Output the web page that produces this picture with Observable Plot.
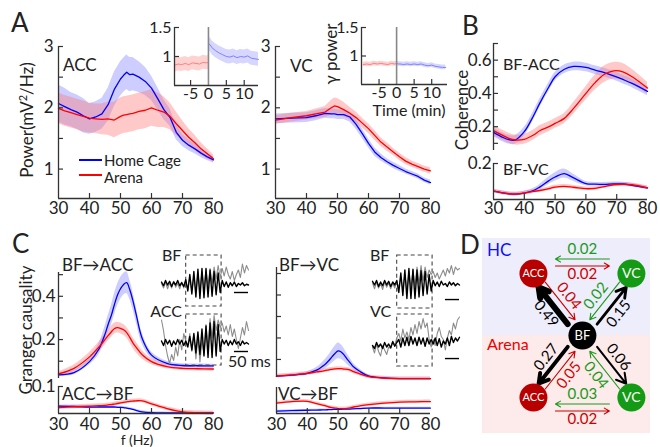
<!DOCTYPE html>
<html><head><meta charset="utf-8">
<script src="https://cdn.jsdelivr.net/npm/d3@7"></script>
<script src="https://cdn.jsdelivr.net/npm/@observablehq/plot@0.6"></script>
<style>
body{margin:0;background:#fff;}
#fig{position:relative;width:660px;height:447px;overflow:hidden;background:#fff;font-family:Lato,"Open Sans",sans-serif;color:#222;}
#fig svg{position:absolute;overflow:visible;}
.t{position:absolute;white-space:nowrap;line-height:1;}
.lg{position:absolute;height:2px;}
</style></head><body><div id="fig"></div>
<script>
// ---------------- DATA ----------------
// Panel A: gamma power spectra
const fA = [30,32,34,36,38,40,42,44,46,48,50,51,52,53,54,56,58,60,62,64,66,68,70,72,74,76,78,80];
const accHome  = [2.07,2.02,1.97,1.93,1.87,1.82,1.85,1.90,2.05,2.30,2.47,2.53,2.58,2.54,2.55,2.50,2.43,2.32,2.15,1.97,1.84,1.60,1.47,1.39,1.33,1.26,1.20,1.15];
const accArena = [1.99,1.95,1.92,1.89,1.86,1.83,1.82,1.81,1.82,1.80,1.86,1.88,1.89,1.90,1.91,1.94,1.96,2.00,1.96,1.93,1.86,1.74,1.63,1.52,1.43,1.33,1.25,1.17];
const accHomeSE  = [0.30,0.30,0.28,0.28,0.28,0.25,0.25,0.25,0.27,0.28,0.28,0.28,0.28,0.28,0.27,0.25,0.23,0.20,0.18,0.16,0.14,0.12,0.10,0.09,0.08,0.07,0.06,0.05];
const accArenaSE = [0.25,0.25,0.25,0.25,0.25,0.24,0.24,0.25,0.27,0.29,0.30,0.30,0.30,0.30,0.30,0.30,0.30,0.30,0.28,0.25,0.22,0.19,0.16,0.14,0.12,0.10,0.08,0.06];
const fV = [30,35,40,43,46,48,49,50,52,54,56,58,60,62,64,66,68,70,72,74,76,78,80];
const vcHome  = [1.82,1.83,1.84,1.87,1.91,1.90,1.90,1.89,1.89,1.85,1.73,1.58,1.42,1.28,1.19,1.12,1.06,1.01,0.96,0.92,0.88,0.82,0.78];
const vcArena = [1.80,1.84,1.87,1.90,1.93,2.00,2.03,2.02,1.97,1.91,1.84,1.75,1.66,1.55,1.44,1.36,1.28,1.20,1.13,1.08,1.04,1.00,0.97];
const vcHomeSE  = [0.08,0.08,0.08,0.08,0.08,0.08,0.08,0.08,0.08,0.08,0.08,0.08,0.07,0.07,0.06,0.05,0.05,0.05,0.04,0.04,0.04,0.04,0.04];
const vcArenaSE = [0.07,0.07,0.07,0.08,0.09,0.12,0.13,0.13,0.12,0.10,0.09,0.08,0.08,0.08,0.07,0.07,0.06,0.06,0.06,0.05,0.05,0.05,0.05];
// insets: gamma power over time (min)
const tArena = [-9.5,-8.5,-7.5,-6.5,-5.5,-4.5,-3.5,-2.5,-1.5,-0.5,0];
const tHome  = [0,0.5,1,2,3,4,5,6,7,8,9,10,11,12,13,14];
const accInArena = [0.85,0.87,0.86,0.88,0.86,0.89,0.88,0.87,0.90,0.89,0.90];
const accInHome  = [1.22,1.20,1.15,1.10,1.06,1.03,1.00,0.99,1.01,0.98,1.00,0.99,1.01,0.97,0.96,0.95];
const vcInArena  = [0.85,0.86,0.85,0.87,0.86,0.87,0.86,0.85,0.87,0.86,0.87];
const vcInHome   = [0.87,0.86,0.86,0.85,0.86,0.85,0.86,0.85,0.86,0.84,0.83,0.84,0.82,0.81,0.80,0.80];
// Panel B: coherence
const fB = [30,33,35,37,40,43,45,48,50,53,56,60,63,66,69,72,75,80];
const cohAccHome  = [0.166,0.136,0.122,0.120,0.170,0.266,0.340,0.440,0.500,0.545,0.562,0.556,0.540,0.525,0.506,0.484,0.460,0.412];
const cohAccArena = [0.176,0.148,0.130,0.120,0.124,0.150,0.176,0.200,0.220,0.250,0.310,0.400,0.465,0.515,0.536,0.530,0.500,0.432];
const cohAccArenaSE = [0.03,0.03,0.03,0.03,0.03,0.03,0.03,0.03,0.03,0.03,0.035,0.04,0.045,0.05,0.05,0.05,0.045,0.035];
const cohVcHome  = [0.047,0.037,0.032,0.030,0.036,0.050,0.069,0.105,0.125,0.144,0.120,0.088,0.085,0.084,0.087,0.086,0.079,0.065];
const cohVcArena = [0.047,0.037,0.032,0.030,0.036,0.045,0.050,0.060,0.069,0.073,0.068,0.060,0.062,0.072,0.082,0.084,0.082,0.065];
const cohVcHomeSE = [0.01,0.01,0.01,0.01,0.01,0.012,0.015,0.02,0.024,0.025,0.02,0.012,0.01,0.01,0.01,0.01,0.01,0.01];
// Panel C: Granger causality
const fC = [30,35,40,43,45,46,47,48,49,50,51,52,53,54,55,57,60,65,70,75,80];
const gBfAccHome  = [0.037,0.047,0.098,0.155,0.225,0.270,0.310,0.360,0.405,0.435,0.455,0.463,0.430,0.380,0.320,0.205,0.128,0.090,0.080,0.079,0.078];
const gBfAccArena = [0.041,0.067,0.120,0.165,0.200,0.218,0.235,0.250,0.255,0.252,0.245,0.232,0.210,0.185,0.165,0.130,0.098,0.075,0.067,0.065,0.064];
const gBfAccHomeSE  = [0.008,0.010,0.015,0.025,0.035,0.040,0.045,0.050,0.050,0.050,0.050,0.050,0.045,0.040,0.035,0.025,0.015,0.010,0.008,0.008,0.008];
const gBfAccArenaSE = [0.010,0.015,0.020,0.022,0.025,0.025,0.025,0.025,0.025,0.025,0.025,0.025,0.025,0.025,0.025,0.020,0.015,0.010,0.010,0.010,0.010];
const gAccBfHome  = [0.027,0.026,0.024,0.024,0.024,0.024,0.024,0.024,0.023,0.023,0.022,0.020,0.018,0.015,0.012,0.006,0.003,0.002,0.002,0.002,0.002];
const gAccBfArena = [0.022,0.025,0.027,0.029,0.030,0.032,0.033,0.035,0.037,0.039,0.041,0.043,0.045,0.046,0.047,0.047,0.036,0.018,0.006,0.003,0.002];
const gBfVcHome  = [0.022,0.027,0.035,0.050,0.069,0.080,0.095,0.112,0.128,0.140,0.135,0.120,0.100,0.083,0.066,0.045,0.022,0.014,0.011,0.011,0.011];
const gBfVcArena = [0.022,0.028,0.035,0.042,0.046,0.049,0.052,0.054,0.056,0.057,0.057,0.055,0.054,0.050,0.043,0.033,0.020,0.013,0.011,0.011,0.011];
const gBfVcHomeSE = [0.004,0.005,0.008,0.012,0.018,0.022,0.026,0.030,0.034,0.037,0.034,0.030,0.025,0.020,0.015,0.010,0.006,0.004,0.004,0.004,0.004];
const gVcBfHome  = [0.009,0.011,0.0125,0.013,0.014,0.014,0.015,0.015,0.016,0.016,0.016,0.017,0.017,0.017,0.018,0.019,0.021,0.021,0.021,0.021,0.021];
const gVcBfArena = [0.040,0.046,0.047,0.038,0.032,0.029,0.025,0.023,0.021,0.019,0.019,0.019,0.020,0.022,0.025,0.029,0.034,0.040,0.044,0.045,0.046];
// Panel C example traces (normalised amplitude, one sample ≈ 7.2 ms)
const sampleMs = 7.2, scaleBarMs = 50, burstStart = 12.2, burstEnd = 29.7;
const bfAccBlack = [0.1,-0.15,0.2,-0.1,0.15,-0.2,0.1,-0.1,0.2,-0.15,0.05,-0.2,0.25,-0.5,0.6,-0.7,0.8,-0.9,0.95,-1.0,1.0,-0.95,1.0,-0.9,0.9,-0.85,0.8,-0.75,0.7,-0.6,0.2,-0.2,0.1,-0.25,0.05,-0.15,0.1,-0.2,0.0,-0.1,0.05,-0.15,-0.05,-0.1];
const bfAccGray  = [0.0,-0.3,0.1,-0.35,0.05,-0.3,0.15,-0.25,0.0,-0.35,0.1,-0.3,0.2,-0.4,0.45,-0.5,0.5,-0.6,0.7,-0.5,0.8,-0.4,0.9,-0.2,1.0,0.0,1.1,0.3,1.2,0.4,1.0,0.5,1.1,0.6,0.3,0.8,0.2,0.6,0.9,0.4,1.3,0.7,1.2,0.9];
const accBlack   = [0.1,-0.2,0.2,-0.1,0.15,-0.25,0.1,-0.15,0.2,-0.1,0.15,-0.2,0.1,-0.3,0.4,-0.5,0.6,-0.7,0.7,-0.8,0.9,-0.9,1.1,-1.0,1.3,-1.0,1.4,-0.9,1.2,-0.6,0.2,-0.1,0.15,-0.2,0.1,-0.15,0.2,-0.1,0.05,-0.2,0.1,-0.1,0.0,-0.1];
const accGray    = [1.5,0.8,-0.2,-0.9,-1.4,-0.8,-1.2,-0.3,-0.9,0.2,-0.5,0.6,0.1,-0.2,0.6,-0.6,0.5,-1.1,0.4,-1.3,0.2,-0.8,1.2,-0.5,1.6,0.3,1.8,0.8,1.5,1.0,1.3,0.7,1.1,0.5,1.2,0.4,0.9,0.2,-0.4,0.3,1.0,0.5,1.4,0.8];
const bfVcBlack  = [0.15,-0.1,0.2,-0.2,0.1,-0.15,0.2,-0.1,0.15,-0.2,0.1,-0.1,0.2,-0.6,0.7,-0.8,0.9,-1.0,1.0,-1.0,0.95,-1.0,0.9,-0.9,0.85,-0.8,0.8,-0.7,0.6,-0.5,0.2,-0.15,0.1,-0.2,0.15,-0.1,0.0,-0.2,0.1,-0.1,0.05,-0.15,0.0,-0.1];
const bfVcGray   = [0.05,-0.35,0.1,-0.3,0.0,-0.4,0.1,-0.25,0.05,-0.35,0.0,-0.3,0.15,-0.3,0.4,-0.4,0.6,-0.5,0.8,-0.3,0.9,-0.2,1.1,0.0,1.2,0.2,1.1,0.4,0.9,0.6,0.8,0.4,0.7,0.3,0.6,0.9,0.5,1.0,0.7,1.2,0.6,1.1,0.9,1.0];
const vcBlack    = [-0.2,-0.4,0.0,-0.3,-0.1,-0.4,0.0,-0.3,-0.1,-0.35,0.05,-0.25,0.0,0.2,-0.3,0.3,-0.2,0.35,-0.2,0.4,-0.1,0.3,-0.2,0.35,-0.1,0.3,-0.25,0.3,-0.1,0.2,-0.1,0.3,-0.2,0.25,-0.3,0.1,-0.1,0.3,-0.2,0.4,0.0,0.3,0.1,0.35];
const vcGray     = [-0.3,-0.7,-0.1,-0.6,-0.9,-0.2,-0.5,-0.8,-0.3,-0.4,0.1,-0.2,0.3,0.6,0.1,0.9,0.3,0.7,0.2,1.0,0.5,1.2,0.6,1.4,0.9,1.6,1.0,1.3,0.2,-0.3,0.2,-0.2,0.6,1.0,0.4,0.2,-0.5,0.3,0.8,0.5,1.3,0.9,1.5,1.7];
// Panel D: network
const dNodes = [
  {name:"ACC", cond:"HC", col:-1, row:1}, {name:"VC", cond:"HC", col:1, row:1},
  {name:"BF", cond:"both", col:0, row:0},
  {name:"ACC", cond:"Arena", col:-1, row:-1}, {name:"VC", cond:"Arena", col:1, row:-1}];
const dEdges = [
  {cond:"HC", from:"BF", to:"ACC", value:0.49}, {cond:"HC", from:"ACC", to:"BF", value:0.04},
  {cond:"HC", from:"BF", to:"VC", value:0.15},  {cond:"HC", from:"VC", to:"BF", value:0.02},
  {cond:"HC", from:"VC", to:"ACC", value:0.02}, {cond:"HC", from:"ACC", to:"VC", value:0.02},
  {cond:"Arena", from:"BF", to:"ACC", value:0.27}, {cond:"Arena", from:"ACC", to:"BF", value:0.05},
  {cond:"Arena", from:"BF", to:"VC", value:0.06},  {cond:"Arena", from:"VC", to:"BF", value:0.04},
  {cond:"Arena", from:"VC", to:"ACC", value:0.03}, {cond:"Arena", from:"ACC", to:"VC", value:0.02}];

// ---------------- DRAWING ----------------
const fig = document.getElementById("fig");
const FONT = "Lato, 'Open Sans', sans-serif";
const AX = "#333", BLUE = "#0000ff", RED = "#ff0000", BBAND = "#7070ff", RBAND = "#ff7070";

function rows(f, v, se) { return f.map((x, i) => { const h = Array.isArray(se) ? se[i] : se; return {f: x, v: v[i], lo: v[i] - h, hi: v[i] + h}; }); }

function panel(box, xd, yd, marks, extra = {}) {
  const M = 40;
  const svg = Plot.plot({
    width: box.w + 2 * M, height: box.h + 2 * M,
    marginLeft: M, marginRight: M, marginTop: M, marginBottom: M,
    style: {fontFamily: FONT, fontSize: "17px", color: "#222", background: "none", overflow: "visible"},
    x: {domain: xd, ...(extra.x || {})}, y: {domain: yd, ...(extra.y || {})},
    color: {type: "identity"},
    marks
  });
  svg.style.left = (box.x - M) + "px"; svg.style.top = (box.y - M) + "px";
  fig.appendChild(svg);
}

function axes(box, xd, yd, o) {
  const m = [], fs = o.fs || 17;
  m.push(Plot.ruleX([xd[0]], {stroke: AX, strokeWidth: 1.3}));
  if (o.yTicks) m.push(Plot.tickY(o.yTicks, {y: d => d, insetRight: box.w - 5, stroke: AX, strokeWidth: 1.2}));
  if (o.yLabels) m.push(Plot.axisY({ticks: o.yLabels, tickSize: 0, tickPadding: o.ypad ?? 4, fontSize: fs, tickFormat: d => String(d), label: null}));
  if (o.xLabels) {
    m.push(Plot.ruleY([yd[0]], {stroke: AX, strokeWidth: 1.3}));
    if (o.xTicks) m.push(Plot.tickX(o.xTicks, {x: d => d, insetTop: box.h - 5, stroke: AX, strokeWidth: 1.2}));
    m.push(Plot.axisX({ticks: o.xLabels, tickSize: 0, tickPadding: o.xpad ?? 3, fontSize: fs, tickFormat: d => String(d), label: null}));
  }
  return {marks: m, extra: {x: o.xLabels ? {} : {axis: null}, y: o.yLabels ? {} : {axis: null}}};
}

function series(home, arena, curve = "linear", sw = 1.3) {
  return [
    Plot.areaY(home, {x: "f", y1: "lo", y2: "hi", fill: BBAND, fillOpacity: 0.35, curve}),
    Plot.areaY(arena, {x: "f", y1: "lo", y2: "hi", fill: RBAND, fillOpacity: 0.38, curve}),
    Plot.line(home, {x: "f", y: "v", stroke: BLUE, strokeWidth: sw, curve}),
    Plot.line(arena, {x: "f", y: "v", stroke: RED, strokeWidth: sw, curve})
  ];
}

function chart(box, xd, yd, data, o) {
  const a = axes(box, xd, yd, o);
  panel(box, xd, yd, [...data, ...a.marks], a.extra);
}

const fx = [30, 80], fTicks = [40, 50, 60, 70], fLabels = [30, 40, 50, 60, 70, 80];

// Panel A
chart({x: 58, y: 46, w: 155, h: 152}, fx, [0.52, 3], series(rows(fA, accHome, accHomeSE), rows(fA, accArena, accArenaSE)),
  {yTicks: [1, 1.5, 2, 2.5, 3], yLabels: [1, 2, 3], xTicks: fTicks, xLabels: fLabels, ypad: 5, xpad: 3});
chart({x: 275, y: 46, w: 155, h: 152}, fx, [0.52, 3], series(rows(fV, vcHome, vcHomeSE), rows(fV, vcArena, vcArenaSE)),
  {yTicks: [1, 1.5, 2, 2.5, 3], yLabels: [1, 2, 3], xTicks: fTicks, xLabels: fLabels, ypad: 5, xpad: 3});

function inset(box, xd, home, arena, seH, seA) {
  const h = tHome.map((t, i) => ({f: t, v: home[i], lo: home[i] - seH, hi: home[i] + seH}));
  const a = tArena.map((t, i) => ({f: t, v: arena[i], lo: arena[i] - seA, hi: arena[i] + seA}));
  const marks = [
    Plot.areaY(h, {x: "f", y1: "lo", y2: "hi", fill: "#8a8aff", fillOpacity: 0.35}),
    Plot.areaY(a, {x: "f", y1: "lo", y2: "hi", fill: "#ff8a8a", fillOpacity: 0.38}),
    Plot.line(h, {x: "f", y: "v", stroke: "#8080ff", strokeWidth: 1}),
    Plot.line(a, {x: "f", y: "v", stroke: "#ff8080", strokeWidth: 1}),
    Plot.ruleX([0], {stroke: "#888", strokeWidth: 1.6})
  ];
  chart(box, xd, [0.5, 1.5], marks, {yTicks: [1, 1.5], yLabels: [1, 1.5], xTicks: [-5, 5, 10], xLabels: [-5, 0, 5, 10], fs: 16, ypad: 3, xpad: 2});
}
inset({x: 174, y: 27, w: 84, h: 58}, [-9.5, 14], accInHome, accInArena, 0.12, 0.12);
inset({x: 361, y: 27, w: 86, h: 57}, [-10, 14.5], vcInHome, vcInArena, 0.04, 0.04);

// Panel B
chart({x: 493, y: 43, w: 154, h: 107}, fx, [0.057, 0.7],
  series(rows(fB, cohAccHome, 0.026), rows(fB, cohAccArena, cohAccArenaSE), "catmull-rom"),
  {yTicks: [0.1, 0.2, 0.3, 0.4, 0.5, 0.6, 0.7], yLabels: [0.2, 0.4, 0.6], ypad: 2});
chart({x: 493, y: 163, w: 154, h: 36}, fx, [0, 0.2],
  series(rows(fB, cohVcHome, cohVcHomeSE), rows(fB, cohVcArena, 0.01), "catmull-rom"),
  {yTicks: [0.2], yLabels: [0.2], xTicks: fTicks, xLabels: fLabels, ypad: 2, xpad: 2});

// Panel C
chart({x: 58, y: 272, w: 155, h: 106}, fx, [0.02, 0.51],
  series(rows(fC, gBfAccHome, gBfAccHomeSE), rows(fC, gBfAccArena, gBfAccArenaSE), "catmull-rom"),
  {yTicks: [0.1, 0.2, 0.3, 0.4, 0.5], yLabels: [0.2, 0.4], ypad: 3});
chart({x: 58, y: 386, w: 155, h: 27}, fx, [0, 0.1],
  series(rows(fC, gAccBfHome, 0.004), rows(fC, gAccBfArena, 0.007), "catmull-rom"),
  {yTicks: [0.1], yLabels: [0.1], xTicks: fTicks, xLabels: fLabels, ypad: 3, xpad: 4});
chart({x: 276, y: 267, w: 154, h: 110}, fx, [0.016, 0.528],
  series(rows(fC, gBfVcHome, gBfVcHomeSE), rows(fC, gBfVcArena, 0.009), "catmull-rom"),
  {yTicks: [0.1, 0.2, 0.3, 0.4, 0.5]});
chart({x: 276, y: 387, w: 154, h: 26}, fx, [0, 0.1],
  series(rows(fC, gVcBfHome, 0.003), rows(fC, gVcBfArena, 0.006), "catmull-rom"),
  {xTicks: fTicks, xLabels: fLabels, xpad: 4});

// example traces
function traces(box, yd, black, gray, barY) {
  const idx = black.map((_, i) => i);
  const bar = scaleBarMs / sampleMs, last = black.length - 1;
  panel(box, [0, last], yd, [
    Plot.rect([0], {x1: burstStart, x2: burstEnd, fill: "none", stroke: "#444", strokeWidth: 1.1, strokeDasharray: "4,3"}),
    Plot.line(idx, {x: i => i, y: i => gray[i], stroke: "#8c8c8c", strokeWidth: 1.1}),
    Plot.line(idx, {x: i => i, y: i => black[i], stroke: "#000", strokeWidth: 1.4}),
    Plot.ruleY([barY], {x1: last - bar, x2: last, stroke: "#000", strokeWidth: 1.4})
  ], {x: {axis: null}, y: {axis: null}});
}
traces({x: 161, y: 255, w: 87, h: 51}, [-23 / 15, 28 / 15], bfAccBlack, bfAccGray, -0.6);
traces({x: 161, y: 314, w: 87, h: 51}, [-23 / 15, 28 / 15], accBlack, accGray, -0.6);
traces({x: 372, y: 255, w: 87, h: 53}, [-25 / 15, 28 / 15], bfVcBlack, bfVcGray, -1.07);
traces({x: 372, y: 314, w: 87, h: 52}, [-24 / 15, 28 / 15], vcBlack, vcGray, -1.07);

// Panel D
const Dbox = {x: 482, y: 238, w: 168, h: 195}, DX = [-2.04, 1.39], DY = [-1.58, 1.565];
const kx = Dbox.w / (DX[1] - DX[0]), ky = Dbox.h / (DY[1] - DY[0]);
const srcColor = {BF: "#000000", ACC: "#cc0000", VC: "#1a9a1a"};
const nodeFill = {BF: "#000000", ACC: "#b80000", VC: "#159a15"};
const node = (name, cond) => dNodes.find(n => n.name === name && (name === "BF" || n.cond === cond));
const geo = dEdges.map(e => {
  const a = node(e.from, e.cond), b = node(e.to, e.cond), color = srcColor[e.from];
  if (a.name !== "BF" && b.name !== "BF") {
    const center = e.cond === "HC" ? -11 : 10, green = e.from === "VC";
    const ady = center + (green ? -3.5 : 3.5), ldy = center + (green ? -13 : 12);
    return {...e, kind: "h", x1: a.col, y1: a.row - ady / ky, x2: b.col, y2: b.row - ady / ky,
            lx: (a.col + b.col) / 2, ly: a.row - ldy / ky, rot: 0, color};
  }
  const o = a.name === "BF" ? b : a;
  const dxp = o.col * kx, dyp = -o.row * ky, L = Math.hypot(dxp, dyp);
  let px = -dyp / L, py = dxp / L;
  if (Math.sign(px) !== Math.sign(o.col)) { px = -px; py = -py; }
  const out = a.name === "BF", off = out ? 4.5 : -4, loff = out ? 15 : -14;
  let ang = Math.atan2(dyp, dxp) * 180 / Math.PI; if (ang > 90) ang -= 180; if (ang < -90) ang += 180;
  return {...e, kind: out ? "out" : "in",
          x1: a.col + px * off / kx, y1: a.row - py * off / ky, x2: b.col + px * off / kx, y2: b.row - py * off / ky,
          lx: o.col / 2 + px * loff / kx, ly: o.row / 2 - py * loff / ky, rot: ang, color};
});
const dMarks = [
  Plot.rect([0], {x1: DX[0], x2: DX[1], y1: 0, y2: DY[1], fill: "#ededfb"}),
  Plot.rect([0], {x1: DX[0], x2: DX[1], y1: DY[0], y2: 0, fill: "#fdeaea"}),
  Plot.arrow(geo.filter(d => d.kind === "h"), {x1: "x1", y1: "y1", x2: "x2", y2: "y2", stroke: "color", strokeWidth: 1.1, headLength: 8, insetStart: 22, insetEnd: 22}),
  Plot.arrow(geo.filter(d => d.kind === "in"), {x1: "x1", y1: "y1", x2: "x2", y2: "y2", stroke: "color", strokeWidth: 1.1, headLength: 9, insetStart: 14, insetEnd: 17}),
  ...geo.filter(d => d.kind === "out").map(d => {
    const sw = 1.5 + 9 * d.value;
    return Plot.arrow([d], {x1: "x1", y1: "y1", x2: "x2", y2: "y2", stroke: "#000", strokeWidth: sw, headLength: 11 * 1.5 / sw, insetStart: 18, insetEnd: 14});
  }),
  Plot.text(geo, {x: "lx", y: "ly", text: d => d.value.toFixed(2), rotate: "rot", fill: "color", fontSize: 15}),
  Plot.dot(dNodes, {x: "col", y: "row", r: 14, fill: d => nodeFill[d.name]}),
  Plot.text(dNodes.filter(d => d.name === "ACC"), {x: "col", y: "row", text: "name", fill: "#fff", fontSize: 11}),
  Plot.text(dNodes.filter(d => d.name === "VC"), {x: "col", y: "row", text: "name", fill: "#fff", fontSize: 14}),
  Plot.text(dNodes.filter(d => d.name === "BF"), {x: "col", y: "row", text: "name", fill: "#fff", fontSize: 13})
];
panel(Dbox, DX, DY, dMarks, {x: {axis: null}, y: {axis: null}});

// ---------------- TEXT ----------------
function txt(s, x, y, o = {}) {
  const d = document.createElement("div"); d.className = "t";
  if (o.html) d.innerHTML = s; else d.textContent = s;
  d.style.left = x + "px"; d.style.top = y + "px";
  d.style.fontSize = (o.size || 17) + "px"; d.style.color = o.color || "#222";
  const ax = o.anchor === "middle" ? "-50%" : o.anchor === "end" ? "-100%" : "0";
  d.style.transform = `translate(${ax},-50%)` + (o.rotate ? ` rotate(${o.rotate}deg)` : "");
  fig.appendChild(d);
}
function legendLine(x, y, w, color) {
  const d = document.createElement("div"); d.className = "lg";
  d.style.left = x + "px"; d.style.top = (y - 1) + "px"; d.style.width = w + "px"; d.style.background = color;
  fig.appendChild(d);
}
txt("A", 11, 22, {size: 26}); txt("B", 462, 25, {size: 26}); txt("C", 12, 243, {size: 26}); txt("D", 460, 244, {size: 26});
txt("Power(mV<sup style='font-size:11px'>2</sup>/Hz)", 26, 120, {html: true, anchor: "middle", rotate: -90});
txt("ACC", 63, 64); txt("VC", 290, 65);
legendLine(79, 160, 23, BLUE); txt("Home Cage", 104, 159.5, {size: 15});
legendLine(79, 175, 23, RED); txt("Arena", 104, 176.5, {size: 15});
txt("γ power", 330, 54, {anchor: "middle", rotate: -90});
txt("Time (min)", 409, 110, {anchor: "middle", size: 16});
txt("Coherence", 461, 110, {anchor: "middle", rotate: -90});
txt("BF-ACC", 503, 64, {size: 16}); txt("BF-VC", 503, 169, {size: 16});
txt("Granger causality", 25, 330, {anchor: "middle", rotate: -90});
txt("f (Hz)", 137, 440, {anchor: "middle", size: 14});
txt("BF→ACC", 62, 264); txt("ACC→BF", 62, 393); txt("BF→VC", 279, 264); txt("VC→BF", 278, 393);
txt("BF", 162, 255, {size: 16}); txt("ACC", 182, 311, {size: 16, anchor: "end"});
txt("BF", 370, 255, {size: 16}); txt("VC", 370, 311, {size: 16});
txt("50 ms", 228, 361, {size: 16});
txt("HC", 487, 249, {size: 17, color: "#1010ff"}); txt("Arena", 487, 344, {size: 16, color: "#ee0000"});
</script></body></html>
